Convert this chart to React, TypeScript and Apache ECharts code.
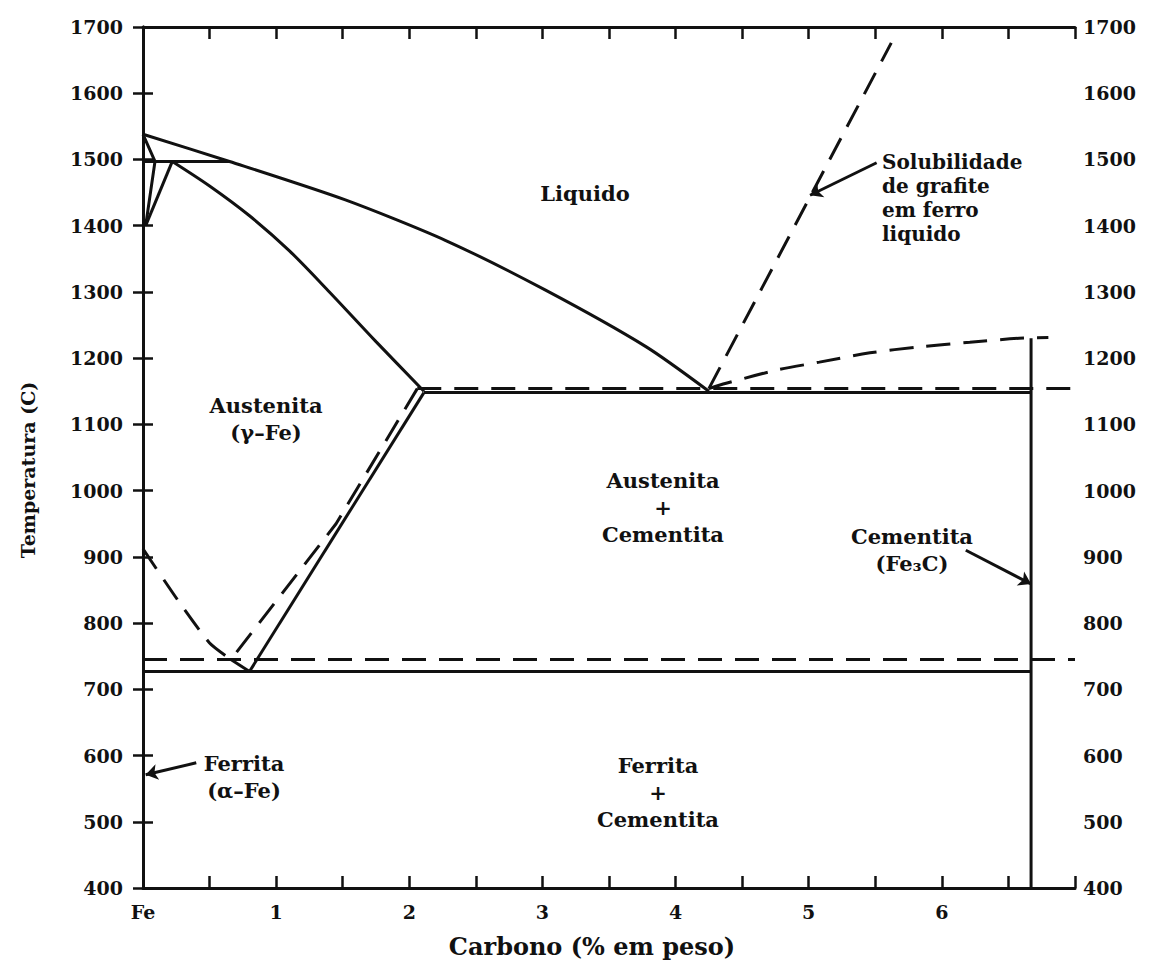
import React, { useEffect, useRef } from "react";
import * as echarts from "echarts";

// ---- data (carbon wt%, temperature °C) ----
const liquidus = [[0, 1538], [0.65, 1497], [1.52, 1439], [2.27, 1378], [3.02, 1303], [3.78, 1217], [4.25, 1150]];
const peritectic = [[0, 1497], [0.65, 1497]];
const deltaSolvus = [[0, 1538], [0.09, 1497], [0.02, 1400]];
const deltaGamma = [[0.02, 1400], [0.22, 1497]];
const gammaSolidus = [[0.22, 1497], [0.5, 1460], [0.8, 1415], [1.1, 1362], [1.4, 1300], [1.75, 1225], [2.11, 1150]];
const eutecticSolid = [[2.11, 1148], [6.67, 1148]];
const eutecticDashed = [[2.06, 1154], [7, 1154]];
const acmSolid = [[2.11, 1148], [0.8, 727]];
const acmDashed = [[2.06, 1154], [1.45, 950], [0.66, 745]];
const a3Dashed = [[0, 912], [0.26, 835], [0.5, 770], [0.66, 745]];
const a3Solid = [[0.66, 745], [0.8, 727]];
const eutectoidSolid = [[0, 727], [6.67, 727]];
const eutectoidDashed = [[0, 745], [7, 745]];
const cementite = [[6.67, 1230], [6.67, 400]];
const graphiteLiquidus = [[4.25, 1154], [4.38, 1162], [4.76, 1182], [5.08, 1194], [5.46, 1208], [5.83, 1217], [6.21, 1224], [6.58, 1230], [6.8, 1231]];
const graphiteSolubility = [[4.25, 1154], [5.62, 1676]];

const arrows = [
  [[5.51, 1495], [5.01, 1446]],
  [[6.18, 910], [6.67, 859]],
  [[0.4, 589], [0.02, 571]],
];

const xTickLabels: Record<string, string> = { "0": "Fe", "1": "1", "2": "2", "3": "3", "4": "4", "5": "5", "6": "6" };
const xTitle = "Carbono (% em peso)";
const yTitle = "Temperatura (C)";

// region labels: [text, x px, y px, align]
const regionLabels: [string, number, number, string][] = [
  ["Liquido", 585, 193, "center"],
  ["Solubilidade\nde grafite\nem ferro\nliquido", 882, 198, "left"],
  ["Austenita\n(γ–Fe)", 266, 419, "center"],
  ["Austenita\n+\nCementita", 663, 507, "center"],
  ["Cementita\n(Fe₃C)", 912, 550, "center"],
  ["Ferrita\n(α–Fe)", 244, 777, "center"],
  ["Ferrita\n+\nCementita", 658, 792, "center"],
];

const FONT = "DejaVu Serif";
const INK = "#111";

export default function App() {
  const ref = useRef<HTMLDivElement>(null);
  useEffect(() => {
    if (!ref.current) return;
    const chart = echarts.init(ref.current, null, { renderer: "svg" });

    const solid = (data: number[][], smooth = 0) => ({
      type: "line", data, showSymbol: false, smooth, silent: true,
      lineStyle: { color: INK, width: 3, type: "solid" },
    });
    const dashed = (data: number[][], smooth = 0) => ({
      type: "line", data, showSymbol: false, smooth, silent: true,
      lineStyle: { color: INK, width: 3, type: [24, 13] },
    });

    const axisCommon = {
      axisLine: { show: true, lineStyle: { color: INK, width: 3 } },
      splitLine: { show: false },
    };
    const yLabel = (margin: number) => ({
      margin, color: INK, fontFamily: FONT, fontWeight: "bold", fontSize: 19,
      formatter: (v: number) => String(v),
    });

    chart.setOption({
      animation: false,
      backgroundColor: "#fff",
      grid: { left: 143, right: 96, top: 27, bottom: 85 },
      xAxis: [
        {
          type: "value", min: 0, max: 7, interval: 0.5, position: "bottom",
          ...axisCommon,
          axisTick: { show: true, inside: true, length: 12, lineStyle: { color: INK, width: 2.5 } },
          axisLabel: {
            show: true, margin: 14, color: INK, fontFamily: FONT, fontWeight: "bold", fontSize: 19,
            formatter: (v: number) => xTickLabels[String(v)] ?? "",
          },
        },
        {
          type: "value", min: 0, max: 7, interval: 0.5, position: "top",
          ...axisCommon,
          axisTick: { show: true, inside: true, length: 12, lineStyle: { color: INK, width: 2.5 } },
          axisLabel: { show: false },
        },
      ],
      yAxis: [
        {
          type: "value", min: 400, max: 1700, interval: 100, position: "left",
          ...axisCommon,
          axisTick: { show: true, inside: true, length: 10, lineStyle: { color: INK, width: 2.5 } },
          axisLabel: yLabel(20),
        },
        {
          type: "value", min: 400, max: 1700, interval: 100, position: "right",
          ...axisCommon,
          axisTick: { show: true, inside: true, length: 10, lineStyle: { color: INK, width: 2.5 } },
          axisLabel: yLabel(8),
        },
      ],
      series: [
        solid(liquidus, 0.25),
        solid(peritectic),
        solid(deltaSolvus),
        solid(deltaGamma),
        solid(gammaSolidus, 0.3),
        solid(eutecticSolid),
        dashed(eutecticDashed),
        solid(acmSolid),
        dashed(acmDashed),
        dashed(a3Dashed, 0.2),
        solid(a3Solid),
        solid(eutectoidSolid),
        dashed(eutectoidDashed),
        solid(cementite),
        dashed(graphiteLiquidus, 0.3),
        dashed(graphiteSolubility),
        {
          type: "lines", coordinateSystem: "cartesian2d", silent: true,
          symbol: ["none", "arrow"], symbolSize: 12,
          lineStyle: { color: INK, width: 3, opacity: 1, curveness: 0 },
          data: arrows.map((c) => ({ coords: c })),
        },
      ],
      graphic: [
        ...regionLabels.map(([text, x, y, align]) => ({
          type: "text", x, y,
          style: {
            text, x: 0, y: 0, align, verticalAlign: "middle",
            fill: INK, font: `bold ${align === "left" ? 20 : 21}px "${FONT}"`, lineHeight: align === "left" ? 24 : 27,
          },
        })),
        {
          type: "text", x: 592, y: 946,
          style: { text: xTitle, align: "center", verticalAlign: "middle", fill: INK, font: `bold 24px "${FONT}"` },
        },
        {
          type: "text", x: 28, y: 470, rotation: Math.PI / 2,
          style: { text: yTitle, align: "center", verticalAlign: "middle", fill: INK, font: `bold 19px "${FONT}"` },
        },
      ],
    });
    return () => chart.dispose();
  }, []);
  return <div ref={ref} style={{ width: 1171, height: 973, margin: -8, background: "#fff" }} />;
}
